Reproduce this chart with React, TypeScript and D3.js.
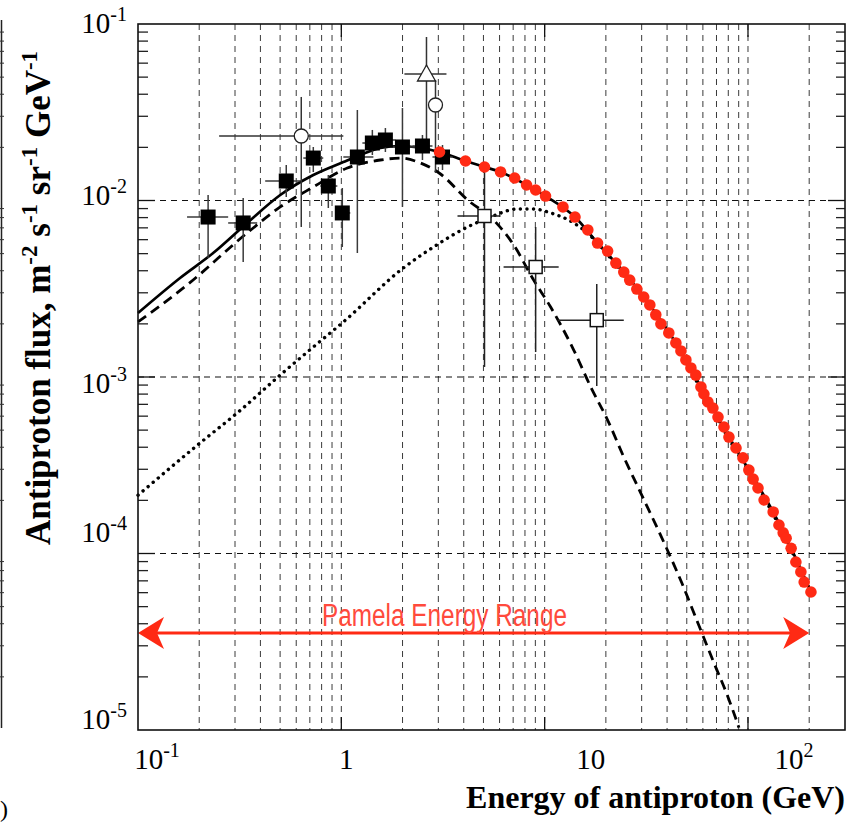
import React from 'react';
import * as d3 from 'd3';

// ---------------- DATA ----------------
// PAMELA expected points (red)
const pamelaE = [3.04, 4.08, 5.06, 6.07, 7.12, 8.15, 9.03, 10.1, 12.3, 14.1, 16.3, 18.2, 20.4, 22.4, 24.5, 26.2, 28.4, 30.7, 32.9, 35.2, 37.3, 40.8, 44.2, 46.8, 49.5, 52.4, 55.4, 58.7, 60.7, 63.5, 67.2, 71.2, 76.2, 80.6, 87.3, 94.5, 101, 106, 112, 120, 133, 142, 149, 154, 163, 172, 182, 189, 204];
const pamelaF = [0.01883, 0.01674, 0.01548, 0.01451, 0.01341, 0.01224, 0.01147, 0.0106, 0.00919, 0.00806, 0.00681, 0.00574, 0.00517, 0.00442, 0.00393, 0.00354, 0.00315, 0.00284, 0.00256, 0.00225, 0.002, 0.001776, 0.001559, 0.001405, 0.001249, 0.001125, 0.001026, 0.000878, 0.000801, 0.000722, 0.000667, 0.000593, 0.000521, 0.000457, 0.000396, 0.000348, 0.000297, 0.000264, 0.000235, 0.000201, 0.000172, 0.000145, 0.000131, 0.000122, 0.000107, 8.95e-5, 7.86e-5, 6.89e-5, 6.05e-5];

// Total (solid)
const solidE = [0.1, 0.161, 0.2342, 0.3442, 0.5006, 0.728, 1.023, 1.24, 1.556, 1.952, 2.45, 3.04, 4.08, 5.06, 6.07, 8.15, 10.1, 14.1, 18.2, 24.5, 32.9, 44.2, 58.7, 80.6, 101, 133, 163, 204];
const solidF = [0.002305, 0.00364, 0.00504, 0.00746, 0.01074, 0.01395, 0.01652, 0.0181, 0.01984, 0.02036, 0.01984, 0.01883, 0.01674, 0.01548, 0.01451, 0.01224, 0.0106, 0.00806, 0.00574, 0.00393, 0.00256, 0.001559, 0.000878, 0.000457, 0.000297, 0.000172, 0.000107, 6.05e-5];

// Secondary (dashed)
const dashedE = [0.1, 0.1743, 0.3442, 0.5006, 0.728, 1.07, 1.556, 1.952, 2.45, 3.074, 4.176, 5.61, 7.04, 8.83, 10.7, 13.9, 16.85, 20.4, 24.5, 29.7, 39.5, 47.3, 56.7, 68, 79.7, 90.3];
const dashedF = [0.00205, 0.00332, 0.00655, 0.00919, 0.01193, 0.01528, 0.01696, 0.0174, 0.01632, 0.01413, 0.01007, 0.00775, 0.0056, 0.00354, 0.00249, 0.001422, 0.000878, 0.00057, 0.000352, 0.00022, 0.000109, 6.8e-5, 4.04e-5, 2.4e-5, 1.54e-5, 1.03e-5];

// Primary (dotted)
const dottedE = [0.1, 0.2021, 0.3074, 0.5006, 0.728, 1.023, 2.021, 2.839, 4.176, 5.42, 7.36, 8.83, 10.7, 13.9, 16.85, 19.5, 24.5, 32.9, 44.2, 58.7, 80.6, 101, 133, 163, 204];
const dottedF = [0.000214, 0.000423, 0.000625, 0.001026, 0.001479, 0.00205, 0.00415, 0.00545, 0.00708, 0.00806, 0.00895, 0.00895, 0.0085, 0.00746, 0.00629, 0.00524, 0.00383, 0.00249, 0.001518, 0.000855, 0.000445, 0.00029, 0.000167, 0.000105, 5.9e-5];

// Filled squares with error bars
const sqE = [0.2212, 0.3291, 0.536, 0.728, 0.863, 1.011, 1.199, 1.421, 1.647, 1.998, 2.506, 3.145];
const sqF = [0.00806, 0.00746, 0.0129, 0.0174, 0.01208, 0.0085, 0.01764, 0.02117, 0.02202, 0.0201, 0.02036, 0.01764];
const sqELo = [0.1743, 0.2776, 0.4222, 0.65, 0.788, 0.934, 1.023, 1.269, 1.471, 1.743, 2.237, 2.807];
const sqEHi = [0.2776, 0.3857, 0.628, 0.815, 0.956, 1.107, 1.438, 1.592, 1.845, 2.314, 2.807, 3.523];
const sqFLo = [0.00472, 0.00448, 0.01047, 0.0145, 0.00907, 0.00545, 0.00504, 0.0181, 0.01883, 0.00919, 0.01696, 0.01489];
const sqFHi = [0.01074, 0.01033, 0.01589, 0.0201, 0.01395, 0.01177, 0.03256, 0.0251, 0.02574, 0.0334, 0.0235, 0.02063];

// Open circles
const circE = [0.6353, 2.905];
const circF = [0.02319, 0.03476];
const circELo = [0.2506, 2.744];
const circEHi = [1.023, 3.074];
const circFLo = [0.00708, 0.01432];
const circFHi = [0.0386, 0.04817];

// Open triangle
const triE = [2.623];
const triF = [0.05208];
const triELo = [2.043];
const triEHi = [3.289];
const triFLo = [0.02202];
const triFHi = [0.0844];

// Open squares
const osqE = [5.06, 9.03, 18.04];
const osqF = [0.00817, 0.0042, 0.0021];
const osqELo = [3.727, 6.28, 11.59];
const osqEHi = [6.07, 11.72, 24.5];
const osqFLo = [0.00114, 0.001385, 0.000889];
const osqFHi = [0.01489, 0.00708, 0.00336];

// Axis ticks
const xDecades = [0.1, 1, 10, 100];
const xTickBase = ['10', '1', '10', '10'];
const xTickExp = ['-1', '', '', '2'];
const yDecades = [1e-1, 1e-2, 1e-3, 1e-4, 1e-5];
const yTickExp = ['-1', '-2', '-3', '-4', '-5'];
const xGridMax = 200;

// Pamela energy range
const pamelaRange = [0.1, 200];
const pamelaArrowFlux = 3.55e-5;
const pamelaLabel = 'Pamela Energy Range';

// ---------------- LAYOUT ----------------
const W = 848;
const H = 823;
const PL = 138, PR = 845, PT = 24, PB = 730;
const xLabelDx = [19, 5, 46, 46];
const yLabelBaseline = [9, 4, 16, -12, -1];

const serif = "'Liberation Serif', 'Times New Roman', Times, serif";

export default function App() {
  const x = d3.scaleLog().domain([0.1, 300]).range([PL, PR]);
  const y = d3.scaleLog().domain([1e-5, 1e-1]).range([PB, PT]);

  const mk = (E: number[], F: number[]) =>
    d3.line<number>().x((_, i) => x(E[i])).y((_, i) => y(F[i])).curve(d3.curveMonotoneX)(E.map((_, i) => i)) || '';

  const xGrid: number[] = [];
  xDecades.forEach((d) => {
    for (let m = 1; m <= 9; m++) {
      const v = d * m;
      if (v > 0.1 * 1.0001 && v <= xGridMax * 1.0001) xGrid.push(v);
    }
  });
  const yMinor: number[] = [];
  [1e-5, 1e-4, 1e-3, 1e-2].forEach((d) => {
    for (let m = 2; m <= 9; m++) yMinor.push(d * m);
  });
  const yGrid = [1e-2, 1e-3, 1e-4];

  const redColor = '#ff2a14';

  const ay = y(pamelaArrowFlux);
  const ax0 = x(pamelaRange[0]);
  const ax1 = x(pamelaRange[1]);

  const errBars = (E: number[], F: number[], Elo: number[], Ehi: number[], Flo: number[], Fhi: number[], color: string, key: string) =>
    E.map((e, i) => (
      <g key={key + i} stroke={color} strokeWidth={1.5}>
        <line x1={x(Elo[i])} x2={x(Ehi[i])} y1={y(F[i])} y2={y(F[i])} />
        <line x1={x(e)} x2={x(e)} y1={y(Flo[i])} y2={y(Fhi[i])} />
      </g>
    ));

  return (
    <svg width={W} height={H} style={{ position: 'absolute', left: 0, top: 0, background: '#fff' }} xmlns="http://www.w3.org/2000/svg">
      <rect x={0} y={0} width={W} height={H} fill="#fff" />

      {/* neighbouring panel edge */}
      <line x1={1.5} x2={1.5} y1={20} y2={728} stroke="#222" strokeWidth={1.5} />
      {yMinor.map((v, i) => (
        <line key={'nb' + i} x1={0} x2={4} y1={y(v)} y2={y(v)} stroke="#333" strokeWidth={1} />
      ))}
      <text x={0} y={817} fontFamily={serif} fontSize={24} fill="#000">)</text>

      {/* grid */}
      {xGrid.map((v, i) => (
        <line key={'xg' + i} x1={x(v)} x2={x(v)} y1={PT} y2={PB} stroke="#3a3a3a" strokeWidth={1} strokeDasharray="6,5" />
      ))}
      {yGrid.map((v, i) => (
        <line key={'yg' + i} x1={PL} x2={PR} y1={y(v)} y2={y(v)} stroke="#111" strokeWidth={1.1} strokeDasharray="6,5" />
      ))}

      {/* y ticks */}
      {yMinor.map((v, i) => (
        <g key={'yt' + i} stroke="#222" strokeWidth={1.3}>
          <line x1={PL} x2={PL + 10} y1={y(v)} y2={y(v)} />
          <line x1={PR - 9} x2={PR} y1={y(v)} y2={y(v)} />
        </g>
      ))}
      {yGrid.map((v, i) => (
        <g key={'ytm' + i} stroke="#111" strokeWidth={1.3}>
          <line x1={PL} x2={PL + 17} y1={y(v)} y2={y(v)} />
          <line x1={PR - 17} x2={PR} y1={y(v)} y2={y(v)} />
        </g>
      ))}
      {xDecades.slice(1).map((v, i) => (
        <g key={'xtm' + i} stroke="#111" strokeWidth={1.3}>
          <line x1={x(v)} x2={x(v)} y1={PB} y2={PB - 13} />
          <line x1={x(v)} x2={x(v)} y1={PT} y2={PT + 13} />
        </g>
      ))}

      {/* curves */}
      <path d={mk(dottedE, dottedF)} fill="none" stroke="#000" strokeWidth={3.4} strokeDasharray="0.1,6.5" strokeLinecap="round" />
      <path d={mk(dashedE, dashedF)} fill="none" stroke="#000" strokeWidth={2.8} strokeDasharray="10,6" />
      <path d={mk(solidE, solidF)} fill="none" stroke="#000" strokeWidth={2.7} />

      {/* error bars */}
      {errBars(circE, circF, circELo, circEHi, circFLo, circFHi, '#333', 'ce')}
      {errBars(triE, triF, triELo, triEHi, triFLo, triFHi, '#333', 'te')}
      {errBars(osqE, osqF, osqELo, osqEHi, osqFLo, osqFHi, '#222', 'oe')}
      {errBars(sqE, sqF, sqELo, sqEHi, sqFLo, sqFHi, '#3a3a3a', 'se')}

      {/* markers */}
      {circE.map((e, i) => (
        <circle key={'c' + i} cx={x(e)} cy={y(circF[i])} r={7} fill="#fff" stroke="#222" strokeWidth={1.3} />
      ))}
      {triE.map((e, i) => {
        const cx = x(e), cy = y(triF[i]);
        return <path key={'t' + i} d={`M${cx},${cy - 9} L${cx + 9},${cy + 7} L${cx - 9},${cy + 7} Z`} fill="#fff" stroke="#222" strokeWidth={1.3} />;
      })}
      {osqE.map((e, i) => (
        <rect key={'o' + i} x={x(e) - 6.5} y={y(osqF[i]) - 6.5} width={13} height={13} fill="#fff" stroke="#111" strokeWidth={1.5} />
      ))}
      {sqE.map((e, i) => (
        <rect key={'s' + i} x={x(e) - 7.5} y={y(sqF[i]) - 7.5} width={15} height={15} fill="#000" />
      ))}

      {/* Pamela points */}
      {pamelaE.map((e, i) => (
        <circle key={'p' + i} cx={x(e)} cy={y(pamelaF[i])} r={5.8} fill={redColor} />
      ))}

      {/* Pamela arrow */}
      <line x1={ax0 + 15} x2={ax1 - 15} y1={ay} y2={ay} stroke={redColor} strokeWidth={3} />
      <path d={`M${ax0},${ay} L${ax0 + 26},${ay - 16} L${ax0 + 19},${ay} L${ax0 + 26},${ay + 16} Z`} fill={redColor} />
      <path d={`M${ax1},${ay} L${ax1 - 26},${ay - 16} L${ax1 - 19},${ay} L${ax1 - 26},${ay + 16} Z`} fill={redColor} />
      <text x={322} y={ay - 7} fontFamily="'Liberation Sans Narrow', 'Liberation Sans', Arial, sans-serif" fontSize={31} fill="#ff4a3c" textLength={245} lengthAdjust="spacingAndGlyphs">{pamelaLabel}</text>

      {/* frame */}
      <rect x={PL} y={PT} width={PR - PL} height={PB - PT} fill="none" stroke="#111" strokeWidth={1.6} />

      {/* x tick labels */}
      {xDecades.map((v, i) => (
        <text key={'xl' + i} x={x(v) + xLabelDx[i]} y={769} textAnchor="middle" fontFamily={serif} fontSize={29} fill="#000">
          {xTickBase[i]}
          {xTickExp[i] ? <tspan dy={-12} fontSize={20}>{xTickExp[i]}</tspan> : null}
        </text>
      ))}

      {/* y tick labels */}
      {yDecades.map((v, i) => (
        <text key={'yl' + i} x={127} y={y(v) + yLabelBaseline[i]} textAnchor="end" fontFamily={serif} fontSize={29} fill="#000">
          10<tspan dy={-12} fontSize={20}>{yTickExp[i]}</tspan>
        </text>
      ))}

      {/* axis titles */}
      <text x={845} y={808} textAnchor="end" fontFamily={serif} fontWeight="bold" fontSize={32} fill="#000">
        Energy of antiproton (GeV)
      </text>
      <text transform="translate(50,545) rotate(-90)" fontFamily={serif} fontWeight="bold" fontSize={35} fill="#000">
        Antiproton flux, m<tspan dy={-13} fontSize={23}>-2</tspan>
        <tspan dy={13}> s</tspan><tspan dy={-13} fontSize={23}>-1</tspan>
        <tspan dy={13}> sr</tspan><tspan dy={-13} fontSize={23}>-1</tspan>
        <tspan dy={13}> GeV</tspan><tspan dy={-13} fontSize={23}>-1</tspan>
      </text>
    </svg>
  );
}
